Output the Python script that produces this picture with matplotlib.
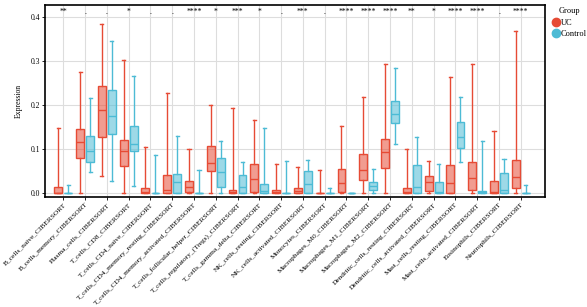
import numpy as np
import matplotlib
matplotlib.use("Agg")
import matplotlib.pyplot as plt
from matplotlib.colors import to_rgba
from matplotlib.lines import Line2D

plt.rcParams['font.family'] = ['Liberation Serif', 'DejaVu Serif']

# cell types (x axis)
cell_types = [
    "B_cells_naive_CIBERSORT", "B_cells_memory_CIBERSORT", "Plasma_cells_CIBERSORT",
    "T_cells_CD8_CIBERSORT", "T_cells_CD4_naive_CIBERSORT",
    "T_cells_CD4_memory_resting_CIBERSORT", "T_cells_CD4_memory_activated_CIBERSORT",
    "T_cells_follicular_helper_CIBERSORT", "T_cells_regulatory_(Tregs)_CIBERSORT",
    "T_cells_gamma_delta_CIBERSORT", "NK_cells_resting_CIBERSORT",
    "NK_cells_activated_CIBERSORT", "Monocytes_CIBERSORT", "Macrophages_M0_CIBERSORT",
    "Macrophages_M1_CIBERSORT", "Macrophages_M2_CIBERSORT",
    "Dendritic_cells_resting_CIBERSORT", "Dendritic_cells_activated_CIBERSORT",
    "Mast_cells_resting_CIBERSORT", "Mast_cells_activated_CIBERSORT",
    "Eosinophils_CIBERSORT", "Neutrophils_CIBERSORT",
]

# significance labels
signif = ["**", ".", ".", "*", ".", ".", "****", "*", "***", "*", ".", "***", ".",
          "****", "****", "****", "**", "*", "****", "****", ".", "****"]

# box stats: (low whisker, Q1, median, Q3, high whisker)
uc_stats = [
    (0, 0, 0.001, 0.0144, 0.147),
    (0, 0.080, 0.117, 0.146, 0.275),
    (0.039, 0.128, 0.188, 0.244, 0.383),
    (0, 0.061, 0.095, 0.120, 0.302),
    (0, 0, 0.002, 0.012, 0.105),
    (0, 0, 0.006, 0.040, 0.227),
    (0, 0.002, 0.014, 0.027, 0.100),
    (0, 0.050, 0.068, 0.107, 0.200),
    (0, 0, 0.003, 0.006, 0.192),
    (0, 0.002, 0.032, 0.066, 0.166),
    (0, 0, 0.003, 0.007, 0.066),
    (0, 0, 0.004, 0.011, 0.059),
    (0, 0, 0, 0, 0.052),
    (0, 0.002, 0.022, 0.055, 0.153),
    (0, 0.030, 0.053, 0.089, 0.217),
    (0, 0.057, 0.094, 0.123, 0.292),
    (0, 0, 0.003, 0.011, 0.100),
    (0, 0.005, 0.025, 0.039, 0.072),
    (0, 0, 0.022, 0.064, 0.264),
    (0, 0.007, 0.034, 0.071, 0.294),
    (0, 0, 0.002, 0.027, 0.142),
    (0, 0.012, 0.036, 0.076, 0.368),
]
ctrl_stats = [
    (0, 0, 0, 0, 0.018),
    (0.047, 0.071, 0.095, 0.130, 0.215),
    (0.027, 0.134, 0.174, 0.233, 0.346),
    (0.017, 0.095, 0.111, 0.152, 0.266),
    (0, 0, 0, 0, 0.087),
    (0, 0, 0.025, 0.044, 0.130),
    (0, 0, 0, 0, 0.052),
    (0, 0.014, 0.047, 0.079, 0.118),
    (0, 0, 0.014, 0.040, 0.070),
    (0, 0, 0.005, 0.021, 0.148),
    (0, 0, 0, 0, 0.072),
    (0, 0, 0.020, 0.050, 0.075),
    (0, 0, 0, 0, 0.012),
    (0, 0, 0, 0, 0),
    (0, 0.006, 0.017, 0.026, 0.055),
    (0.111, 0.160, 0.180, 0.210, 0.285),
    (0, 0, 0.014, 0.064, 0.128),
    (0, 0, 0.002, 0.025, 0.066),
    (0.070, 0.102, 0.127, 0.161, 0.218),
    (0, 0, 0.002, 0.005, 0.119),
    (0, 0, 0.006, 0.045, 0.077),
    (0, 0, 0, 0, 0.018),
]

groups = ["UC", "Control"]
colors = {"UC": "#E64B35", "Control": "#4DBBD5"}


def to_bxp(stats):
    return [dict(whislo=s[0], q1=s[1], med=s[2], q3=s[3], whishi=s[4], fliers=[])
            for s in stats]


fig = plt.figure(figsize=(5.87, 3.07), dpi=100)
ax = fig.add_axes([0.077, 0.358, 0.851, 0.626])

pos = np.arange(1, len(cell_types) + 1)
offset = 0.23
width = 0.36

for grp, stats, sgn in [("UC", uc_stats, -1), ("Control", ctrl_stats, 1)]:
    c = colors[grp]
    ax.bxp(to_bxp(stats), positions=pos + sgn * offset, widths=width,
           patch_artist=True, showfliers=False, manage_ticks=False,
           boxprops=dict(facecolor=to_rgba(c, 0.55), edgecolor=c, linewidth=1.0),
           medianprops=dict(color=c, linewidth=1.0),
           whiskerprops=dict(color=c, linewidth=1.0),
           capprops=dict(color=c, linewidth=1.0),
           capwidths=0.14, zorder=3)

for p, s in zip(pos, signif):
    ax.text(p, 0.411, s, ha="center", va="center", fontsize=5.5)

ax.set_xlim(0.17, 23.1)
ax.set_ylim(-0.009, 0.427)
ax.set_xticks(pos)
ax.set_xticklabels(cell_types, rotation=45, ha="right", rotation_mode="anchor",
                   fontsize=5.3)
ax.set_yticks([0.0, 0.1, 0.2, 0.3, 0.4])
ax.set_yticklabels(["0.0", "0.1", "0.2", "0.3", "0.4"], fontsize=5.5)
ax.set_ylabel("Expression", fontsize=5.5, labelpad=6)
ax.grid(True, color="#dddddd", linewidth=0.8, zorder=0)
ax.set_axisbelow(True)
ax.tick_params(length=2, width=0.6, pad=1.5)
for sp in ax.spines.values():
    sp.set_linewidth(1.2)

handles = [Line2D([], [], marker="o", linestyle="", markersize=6,
                  color=colors[g]) for g in groups]
fig.legend(handles, groups, title="Group", loc="upper left",
           bbox_to_anchor=(0.93, 0.995), frameon=False, fontsize=6,
           title_fontsize=6, handletextpad=0.1, borderpad=0.2,
           labelspacing=0.4, handlelength=1.0)
fig.savefig("out.png", dpi=100)
